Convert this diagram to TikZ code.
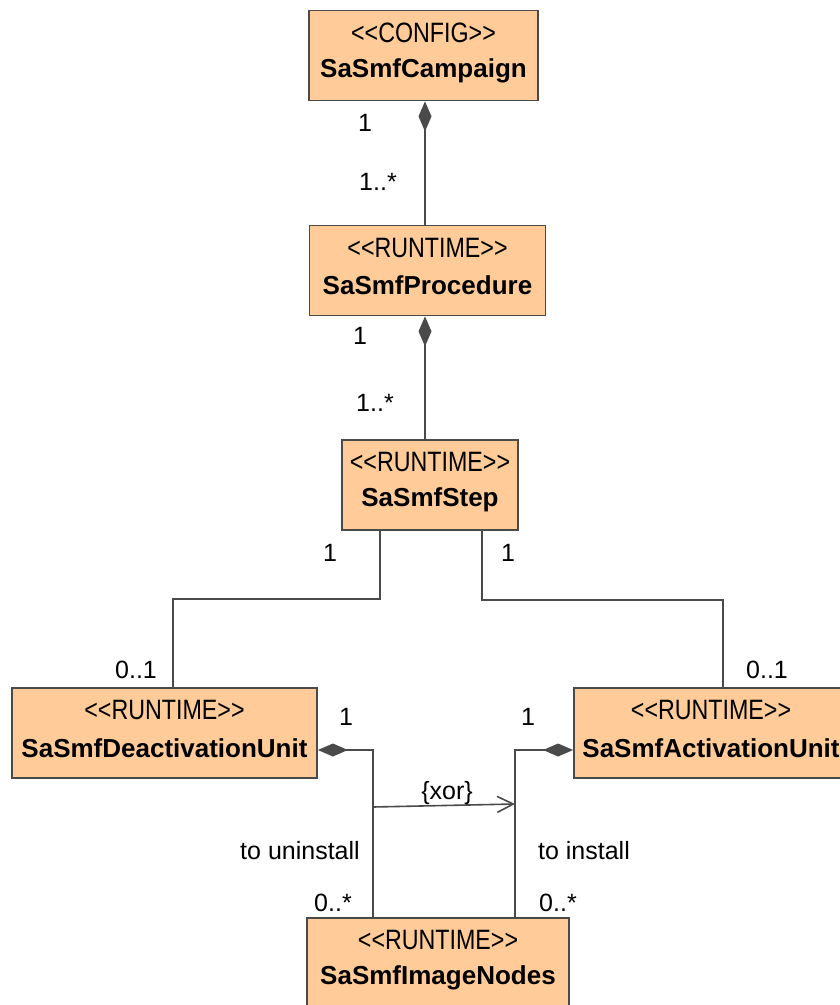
\documentclass[tikz,border=0pt]{standalone}
\usepackage{fontspec}
\setmainfont{Liberation Sans}
\newfontfamily\stereofont[FakeStretch=0.83]{Liberation Sans}
\usetikzlibrary{arrows.meta}
\definecolor{clsfill}{HTML}{FFCC99}
\definecolor{lnc}{HTML}{4A4A4A}
\begin{document}
\begin{tikzpicture}[x=1pt,y=-1pt,
  cls/.style={draw=lnc, fill=clsfill, line width=1.8pt, inner sep=0pt, minimum height=90pt},
  ster/.style={font=\stereofont\fontsize{28}{32}\selectfont, inner sep=0pt},
  cname/.style={font=\bfseries\fontsize{26}{30}\selectfont, inner sep=0pt},
  lbl/.style={font=\fontsize{25}{30}\selectfont, inner sep=0pt},
  assoc/.style={draw=lnc, line width=1.6pt},
  comp/.style={assoc, {Diamond[length=30pt,width=13pt,fill=lnc]}-},
  xorarr/.style={assoc, -{Straight Barb[length=16pt,width=16pt]}}]
\fill[white] (0,0) rectangle (840,1005);
\useasboundingbox (0,0) rectangle (840,1005);

% classes
\node[cls, minimum width=229pt] (camp) at (423.5,55.5) {};
\node[ster] (campS) at ([yshift=-23pt]camp.north) {<<CONFIG>>};
\node[cname] (campN) at ([yshift=-61pt]camp.north) {SaSmfCampaign};

\node[cls, minimum width=236pt] (proc) at (427.5,270.5) {};
\node[ster] (procS) at ([yshift=-23pt]proc.north) {<<RUNTIME>>};
\node[cname] (procN) at ([yshift=-61pt]proc.north) {SaSmfProcedure};

\node[cls, minimum width=176pt] (step) at (430,485) {};
\node[ster] (stepS) at ([yshift=-23pt]step.north) {<<RUNTIME>>};
\node[cname] (stepN) at ([yshift=-61pt]step.north) {SaSmfStep};

\node[cls, minimum width=305pt] (deact) at (164.5,733) {};
\node[ster] (deactS) at ([yshift=-23pt]deact.north) {<<RUNTIME>>};
\node[cname] (deactN) at ([yshift=-61pt]deact.north) {SaSmfDeactivationUnit};

\node[cls, minimum width=274pt] (act) at (711,733) {};
\node[ster] (actS) at ([yshift=-23pt]act.north) {<<RUNTIME>>};
\node[cname] (actN) at ([yshift=-61pt]act.north) {SaSmfActivationUnit};

\node[cls, minimum width=262pt] (img) at (438,963) {};
\node[ster] (imgS) at ([yshift=-23pt]img.north) {<<RUNTIME>>};
\node[cname] (imgN) at ([yshift=-61pt]img.north) {SaSmfImageNodes};

% connectors
\draw[comp] (camp.south -| 425,0) -- (proc.north -| 425,0);
\draw[comp] (proc.south -| 425,0) -- (step.north -| 425,0);
\draw[assoc] (step.south -| 380,0) -- (380,599) -| (deact.north -| 173,0);
\draw[assoc] (step.south -| 482,0) -- (482,600) -| (act.north -| 723,0);
\draw[comp] (deact.east |- 0,750) -| (img.north -| 373,0);
\draw[comp] (act.west |- 0,750) -| (img.north -| 515,0);
\coordinate (xs) at (373,807);
\coordinate (xe) at (515,804);
\draw[xorarr] (xs) -- (xe);

% labels
\node[lbl] (l1) at (365,123) {1};
\node[lbl] (l2) at (378,182) {1..*};
\node[lbl] (l3) at (360,336) {1};
\node[lbl] (l4) at (375,403) {1..*};
\node[lbl] (l5) at (330,553) {1};
\node[lbl] (l6) at (508,553) {1};
\node[lbl] (l7) at (136,670) {0..1};
\node[lbl] (l8) at (767,670) {0..1};
\node[lbl] (l9) at (346,717) {1};
\node[lbl] (l10) at (528,717) {1};
\node[lbl] (lx) at (447,793) {\{xor\}};
\node[lbl] (lu) at (300,851) {to uninstall};
\node[lbl] (li) at (584,851) {to install};
\node[lbl] (l11) at (333,903) {0..*};
\node[lbl] (l12) at (558,903) {0..*};
\end{tikzpicture}
\end{document}
